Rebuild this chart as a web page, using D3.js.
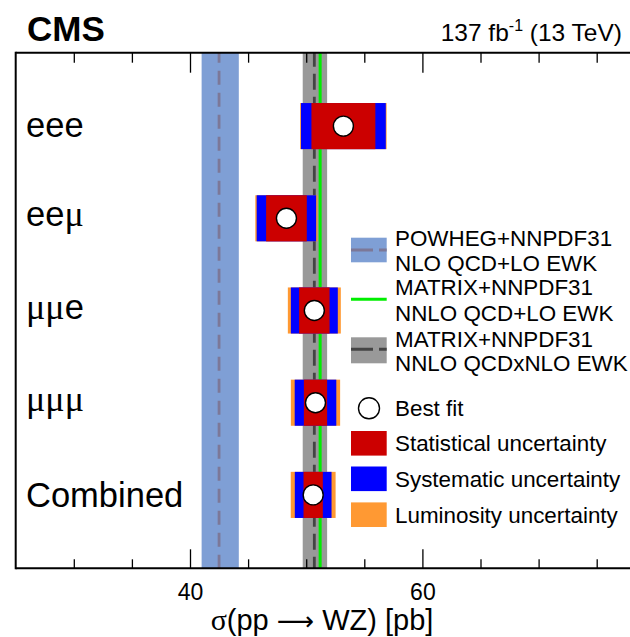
<!DOCTYPE html>
<html>
<head>
<meta charset="utf-8">
<script src="https://cdn.jsdelivr.net/npm/d3@7"></script>
<style>
  html, body { margin: 0; padding: 0; background: #fff; }
  svg { display: block; font-family: "Liberation Sans", Arial, Helvetica, sans-serif; }
</style>
</head>
<body>
<div id="chart"></div>
<script>
// ---- data ----
const categories = ["eee", "eeμ", "μμe", "μμμ", "Combined"];
const bestFit    = [53.2, 48.3, 50.7, 50.8, 50.6];
const statUnc    = [2.75, 1.75, 1.31, 1.00, 0.83];   // red half-width
const systUnc    = [0.90, 0.81, 0.71, 0.79, 0.75];   // additional blue half-width
const lumiUnc    = [0.07, 0.12, 0.26, 0.33, 0.35];   // additional orange half-width

const powhegCentral = 42.5, powhegLow = 41.0, powhegHigh = 44.2;
const matrixQcdCentral = 51.2;
const matrixEwCentral = 50.7, matrixEwLow = 49.7, matrixEwHigh = 51.8;

const xDomain = [25, 80];
const minorTicks = [30, 35, 45, 50, 55, 65, 70, 75];
const majorTicks = [40, 60];

const legendTheory = [
  ["POWHEG+NNPDF31", "NLO QCD+LO EWK"],
  ["MATRIX+NNPDF31", "NNLO QCD+LO EWK"],
  ["MATRIX+NNPDF31", "NNLO QCDxNLO EWK"]
];
const legendMarks = ["Best fit", "Statistical uncertainty", "Systematic uncertainty", "Luminosity uncertainty"];

// ---- colors ----
const cPowheg = "#7f9fd5", cPowhegLine = "#7c7898";
const cGray = "#999999", cGrayLine = "#444444";
const cGreen = "#00ee00";
const cRed = "#cc0000", cBlue = "#0000ff", cOrange = "#ff9933";

// ---- layout ----
const W = 630, H = 637;
const frameL = 15.7, frameT = 52.7, frameB = 568.3;
const serif = "Liberation Serif, Times New Roman, serif";
const x = d3.scaleLinear().domain(xDomain).range([frameL, frameL + 55 * 11.62]);
const y = d3.scaleLinear().domain([-0.796, 4.796]).range([frameT, frameB]);
const rowH = y(1) - y(0);
const barH = rowH * 0.5;

const svg = d3.select("#chart").append("svg").attr("width", W).attr("height", H);

// theory bands
svg.append("rect").attr("x", x(powhegLow)).attr("y", frameT)
  .attr("width", x(powhegHigh) - x(powhegLow)).attr("height", frameB - frameT).attr("fill", cPowheg);
svg.append("line").attr("x1", x(powhegCentral)).attr("x2", x(powhegCentral))
  .attr("y1", frameT).attr("y2", frameB).attr("stroke", cPowhegLine).attr("stroke-width", 2.8)
  .attr("stroke-dasharray", "14,8").attr("stroke-dashoffset", 4);

svg.append("rect").attr("x", x(matrixEwLow)).attr("y", frameT)
  .attr("width", x(matrixEwHigh) - x(matrixEwLow)).attr("height", frameB - frameT).attr("fill", cGray);
svg.append("line").attr("x1", x(matrixEwCentral)).attr("x2", x(matrixEwCentral))
  .attr("y1", frameT).attr("y2", frameB).attr("stroke", cGrayLine).attr("stroke-width", 2.8)
  .attr("stroke-dasharray", "16,7").attr("stroke-dashoffset", 2);
svg.append("line").attr("x1", x(matrixQcdCentral)).attr("x2", x(matrixQcdCentral))
  .attr("y1", frameT).attr("y2", frameB).attr("stroke", cGreen).attr("stroke-width", 3);

// frame and ticks
const frame = svg.append("g");
frame.append("g").attr("transform", `translate(0,${frameB})`)
  .call(d3.axisBottom(x).tickValues(minorTicks).tickSize(-9).tickFormat(""));
frame.append("g").attr("transform", `translate(0,${frameB})`)
  .call(d3.axisBottom(x).tickValues(majorTicks).tickSize(-19).tickPadding(15.5).tickFormat(d3.format("d")));
frame.append("g").attr("transform", `translate(0,${frameT})`)
  .call(d3.axisTop(x).tickValues(minorTicks).tickSize(-10).tickFormat(""));
frame.append("g").attr("transform", `translate(0,${frameT})`)
  .call(d3.axisTop(x).tickValues(majorTicks).tickSize(-20).tickFormat(""));
frame.selectAll(".domain").remove();
frame.selectAll(".tick line").attr("stroke", "#000").attr("stroke-width", 1.3);
frame.selectAll(".tick text").attr("font-size", 23).attr("fill", "#000")
  .attr("font-family", "Liberation Sans, Arial, sans-serif");
frame.append("line").attr("x1", frameL).attr("x2", W + 40).attr("y1", frameT).attr("y2", frameT)
  .attr("stroke", "#000").attr("stroke-width", 2);
frame.append("line").attr("x1", frameL).attr("x2", W + 40).attr("y1", frameB).attr("y2", frameB)
  .attr("stroke", "#000").attr("stroke-width", 2);
frame.append("line").attr("x1", frameL).attr("x2", frameL).attr("y1", frameT - 1).attr("y2", frameB + 1)
  .attr("stroke", "#000").attr("stroke-width", 2);

// measurement bars
const rows = categories.map((c, i) => ({
  c, i, v: bestFit[i], s: statUnc[i], sy: systUnc[i], l: lumiUnc[i]
}));
const g = svg.append("g");
rows.forEach(r => {
  const yc = y(r.i);
  const tot = r.s + r.sy + r.l, ss = r.s + r.sy;
  g.append("rect").attr("x", x(r.v - tot)).attr("width", x(r.v + tot) - x(r.v - tot))
    .attr("y", yc - barH / 2).attr("height", barH).attr("fill", cOrange);
  g.append("rect").attr("x", x(r.v - ss)).attr("width", x(r.v + ss) - x(r.v - ss))
    .attr("y", yc - barH / 2).attr("height", barH).attr("fill", cBlue);
  g.append("rect").attr("x", x(r.v - r.s)).attr("width", x(r.v + r.s) - x(r.v - r.s))
    .attr("y", yc - barH / 2).attr("height", barH).attr("fill", cRed);
  g.append("circle").attr("cx", x(r.v)).attr("cy", yc).attr("r", 10)
    .attr("fill", "#fff").attr("stroke", "#000").attr("stroke-width", 1.4);
  const hasCap = /[A-Z]/.test(r.c), hasMu = /μ/.test(r.c);
  const off = hasCap ? 12.5 : (hasMu ? 8 : 10.5);
  const t = g.append("text").attr("x", 26).attr("y", yc + off).attr("font-size", 34.5);
  Array.from(r.c).forEach(ch => {
    const sp = t.append("tspan").text(ch);
    if (ch === "μ") sp.attr("font-family", serif).attr("font-size", 36);
  });
});

// legend
const lg = svg.append("g");
const lx0 = 351, lx1 = 386.7, ltx = 395, lfs = 22.4;
const theoryCenters = [250, 299.3, 350.3];
const theoryText = [[246.3, 270.8], [294.8, 321.3], [347.3, 371.3]];
// POWHEG swatch
lg.append("rect").attr("x", lx0).attr("y", theoryCenters[0] - 12.3).attr("width", lx1 - lx0).attr("height", 24.6).attr("fill", cPowheg);
lg.append("line").attr("x1", lx0).attr("x2", lx1).attr("y1", theoryCenters[0]).attr("y2", theoryCenters[0])
  .attr("stroke", cPowhegLine).attr("stroke-width", 3).attr("stroke-dasharray", "22,6");
// green
lg.append("line").attr("x1", lx0).attr("x2", lx1).attr("y1", theoryCenters[1]).attr("y2", theoryCenters[1])
  .attr("stroke", cGreen).attr("stroke-width", 3);
// gray
lg.append("rect").attr("x", lx0).attr("y", theoryCenters[2] - 13).attr("width", lx1 - lx0).attr("height", 26).attr("fill", cGray);
lg.append("line").attr("x1", lx0).attr("x2", lx1).attr("y1", theoryCenters[2] - 1).attr("y2", theoryCenters[2] - 1)
  .attr("stroke", cGrayLine).attr("stroke-width", 3).attr("stroke-dasharray", "22,6");
legendTheory.forEach((lines, i) => {
  lines.forEach((t, j) => {
    lg.append("text").attr("x", ltx).attr("y", theoryText[i][j]).attr("font-size", lfs).text(t);
  });
});
const markCenters = [408.3, 443.3, 478.8, 514.7];
lg.append("circle").attr("cx", 369).attr("cy", markCenters[0]).attr("r", 10.5)
  .attr("fill", "#fff").attr("stroke", "#000").attr("stroke-width", 1.4);
[cRed, cBlue, cOrange].forEach((c, i) => {
  lg.append("rect").attr("x", lx0).attr("y", markCenters[i + 1] - 12.3).attr("width", lx1 - lx0).attr("height", 24.6).attr("fill", c);
});
legendMarks.forEach((t, i) => {
  lg.append("text").attr("x", ltx).attr("y", markCenters[i] + 8).attr("font-size", lfs).text(t);
});

// header
svg.append("text").attr("x", 27).attr("y", 41).attr("font-size", 35).attr("font-weight", "bold").text("CMS");
const lumi = svg.append("text").attr("x", 622).attr("y", 41).attr("font-size", 24.5).attr("text-anchor", "end");
lumi.append("tspan").text("137 fb");
lumi.append("tspan").attr("font-size", 16).attr("dy", -10).text("-1");
lumi.append("tspan").attr("dy", 10).text(" (13 TeV)");

// x title
const title = svg.append("text").attr("x", 322).attr("y", 630).attr("font-size", 29).attr("text-anchor", "middle");
title.append("tspan").attr("font-family", serif).attr("font-size", 30).text("σ");
title.append("tspan").text("(pp ");
title.append("tspan").attr("font-family", "DejaVu Sans, sans-serif").attr("font-size", 26).text("⟶");
title.append("tspan").text(" WZ) [pb]");
</script>
</body>
</html>
